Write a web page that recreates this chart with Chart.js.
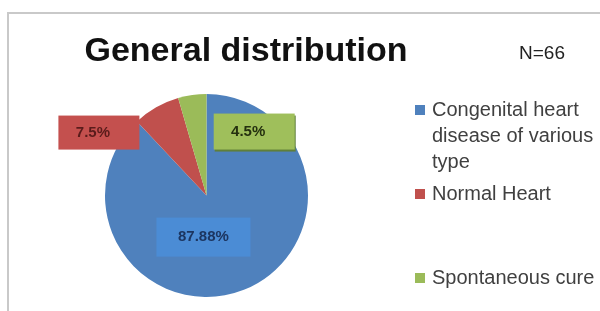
<!DOCTYPE html>
<html>
<head>
<meta charset="utf-8">
<script src="https://cdn.jsdelivr.net/npm/chart.js@4.4.1/dist/chart.umd.min.js"></script>
<style>
    html, body { margin: 0; padding: 0; background: #ffffff; }
    #wrap { position: relative; width: 600px; height: 311px; }
</style>
</head>
<body>
<div id="wrap"><canvas id="pieChart"></canvas></div>
<script>
// data
const categories = ['Congenital heart disease of various type', 'Normal Heart', 'Spontaneous cure'];
const percentages = [87.88, 7.5, 4.5];
const valueLabels = ['87.88%', '7.5%', '4.5%'];
const sliceColors = ['#4f81bd', '#c0504d', '#9bbb59'];
const chartTitle = 'General distribution';
const sampleSize = 'N=66';

const FONT = '"Liberation Sans", Arial, sans-serif';

// frame, title, N and legend
const decorPlugin = {
    id: 'decor',
    afterDraw(chart) {
        const ctx = chart.ctx;
        ctx.save();

        // light grey frame running off the right and bottom
        ctx.strokeStyle = '#c9c9c9';
        ctx.lineWidth = 2;
        ctx.beginPath();
        ctx.moveTo(8, 320);
        ctx.lineTo(8, 13);
        ctx.lineTo(610, 13);
        ctx.stroke();

        ctx.fillStyle = '#111111';
        ctx.textAlign = 'center';
        ctx.textBaseline = 'middle';
        ctx.font = 'bold 34px ' + FONT;
        ctx.fillText(chartTitle, 246, 52);

        ctx.fillStyle = '#222222';
        ctx.font = '19px ' + FONT;
        ctx.fillText(sampleSize, 542, 54);

        // legend, rows at fixed spacing like the original
        ctx.textAlign = 'left';
        ctx.font = '20px ' + FONT;
        const maxW = 168;
        chart.data.labels.forEach((label, i) => {
            const rowY = 110 + i * 84;
            ctx.fillStyle = sliceColors[i];
            ctx.fillRect(415, rowY - 5, 10, 10);

            const words = label.split(' ');
            const lines = [];
            let line = '';
            words.forEach(w => {
                const test = line ? line + ' ' + w : w;
                if (ctx.measureText(test).width > maxW && line) {
                    lines.push(line);
                    line = w;
                } else {
                    line = test;
                }
            });
            lines.push(line);

            ctx.fillStyle = '#404040';
            lines.forEach((l, j) => ctx.fillText(l, 432, rowY + j * 26));
        });

        ctx.restore();
    }
};

// boxed percentage labels
const boxLabelPlugin = {
    id: 'boxLabels',
    afterDatasetsDraw(chart, args, opts) {
        const ctx = chart.ctx;
        const arcs = chart.getDatasetMeta(0).data;
        ctx.save();
        ctx.textAlign = 'center';
        ctx.textBaseline = 'middle';
        ctx.font = 'bold 15px ' + FONT;
        arcs.forEach((arc, i) => {
            const b = opts.boxes[i];
            const cx = arc.x + b.dx * arc.outerRadius;
            const cy = arc.y + b.dy * arc.outerRadius;
            if (b.shadow) {
                ctx.fillStyle = b.shadow;
                ctx.fillRect(cx - b.w / 2 + 1, cy - b.h / 2 + 2, b.w, b.h);
            }
            ctx.fillStyle = b.fill;
            ctx.fillRect(cx - b.w / 2, cy - b.h / 2, b.w, b.h);
            ctx.fillStyle = b.text;
            ctx.fillText(valueLabels[i], cx + (b.tx || 0), cy);
        });
        ctx.restore();
    }
};

new Chart(document.getElementById('pieChart'), {
    type: 'pie',
    data: {
        labels: categories,
        datasets: [{
            data: percentages,
            backgroundColor: sliceColors,
            borderWidth: 0
        }]
    },
    options: {
        responsive: true,
        maintainAspectRatio: false,
        animation: false,
        layout: {
            padding: { left: 105, right: 292, top: 94, bottom: 14 }
        },
        plugins: {
            legend: { display: false },
            title: { display: false },
            tooltip: { enabled: false },
            boxLabels: {
                boxes: [
                    { dx: -0.03, dy: 0.41, w: 94, h: 39, fill: '#4b8cd5', text: '#1c3560' },
                    { dx: -1.06, dy: -0.62, w: 81, h: 34, fill: '#c4504e', text: '#5a1c1b', tx: -6 },
                    { dx: 0.47, dy: -0.63, w: 81, h: 36, fill: '#9fbf5b', text: '#24300f', shadow: '#5f7f3a', tx: -6 }
                ]
            }
        }
    },
    plugins: [boxLabelPlugin, decorPlugin]
});
</script>
</body>
</html>
